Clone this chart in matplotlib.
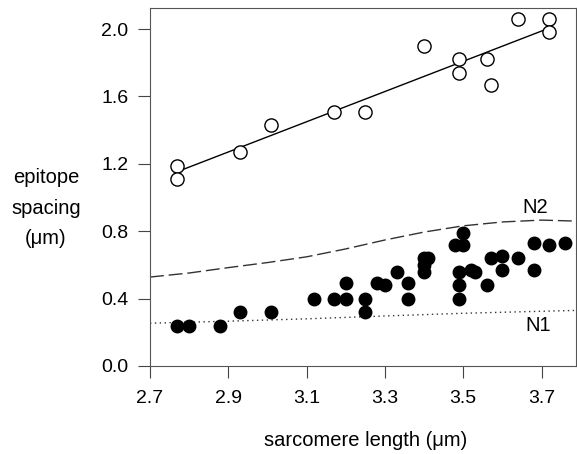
import numpy as np
import matplotlib.pyplot as plt

plt.rcParams['font.family'] = ['Liberation Sans', 'DejaVu Sans']

# open circles (upper series)
open_x = [2.77, 2.77, 2.93, 3.01, 3.17, 3.25, 3.40, 3.49, 3.49, 3.56, 3.57, 3.64, 3.72, 3.72]
open_y = [1.19, 1.11, 1.27, 1.43, 1.51, 1.51, 1.90, 1.82, 1.74, 1.82, 1.67, 2.06, 2.06, 1.98]

# filled circles (lower series)
fill_x = [2.77, 2.80, 2.88, 2.93, 3.01, 3.12, 3.17, 3.20, 3.20, 3.25, 3.25, 3.28,
          3.30, 3.33, 3.36, 3.36, 3.40, 3.41, 3.40, 3.40, 3.48, 3.50, 3.50, 3.49,
          3.49, 3.49, 3.52, 3.53, 3.56, 3.57, 3.60, 3.60, 3.64, 3.68, 3.68, 3.72, 3.76]
fill_y = [0.24, 0.24, 0.24, 0.32, 0.32, 0.40, 0.40, 0.40, 0.49, 0.40, 0.32, 0.49,
          0.48, 0.56, 0.49, 0.40, 0.64, 0.64, 0.60, 0.56, 0.72, 0.72, 0.79, 0.56,
          0.48, 0.40, 0.57, 0.56, 0.48, 0.64, 0.65, 0.57, 0.64, 0.73, 0.57, 0.72, 0.73]

# model curves
n2_x = [2.70, 2.80, 2.90, 3.00, 3.10, 3.20, 3.30, 3.40, 3.50, 3.60, 3.70, 3.79]
n2_y = [0.528, 0.552, 0.584, 0.614, 0.648, 0.695, 0.748, 0.795, 0.832, 0.855, 0.866, 0.860]
n1_x = [2.70, 2.90, 3.10, 3.30, 3.50, 3.70, 3.79]
n1_y = [0.254, 0.266, 0.280, 0.297, 0.313, 0.325, 0.330]

xticks = [2.7, 2.9, 3.1, 3.3, 3.5, 3.7]
yticks = [0.0, 0.4, 0.8, 1.2, 1.6, 2.0]

fig = plt.figure(figsize=(5.77, 4.54), dpi=100)
ax = fig.add_axes([150 / 577, 1 - 366 / 454, 426 / 577, 358 / 454])

# regression line through the open circles
k, b = np.polyfit(open_x, open_y, 1)
lx = np.array([min(open_x), max(open_x)])
ax.plot(lx, k * lx + b, color='black', lw=1.0, zorder=2)

ax.plot(n2_x, n2_y, color='#333333', lw=1.0, dashes=(10, 3.5), zorder=2)
ax.plot(n1_x, n1_y, color='#333333', lw=1.0, dashes=(1, 2.5), zorder=2)

ax.plot(open_x, open_y, 'o', ms=9.5, mfc='white', mec='black', mew=1.0, zorder=3)
ax.plot(fill_x, fill_y, 'o', ms=9.0, mfc='black', mec='black', zorder=3)

ax.text(3.683, 0.94, 'N2', fontsize=14.5, ha='center', va='center')
ax.text(3.691, 0.238, 'N1', fontsize=14.5, ha='center', va='center')

ax.set_xlim(2.7, 3.788)
ax.set_ylim(0.0, 2.125)
ax.set_xticks(xticks)
ax.set_yticks(yticks)
ax.set_xticklabels(['%.1f' % v for v in xticks])
ax.set_yticklabels(['%.1f' % v for v in yticks])
ax.tick_params(direction='out', length=8.5, width=0.8, color='#444444',
               labelsize=14, pad=7)
ax.tick_params(axis='x', pad=9)
for s in ax.spines.values():
    s.set_color('#555555')
    s.set_linewidth(0.8)

fig.text(366 / 577, 1 - 441 / 454, 'sarcomere length (μm)', fontsize=14.5,
         ha='center', va='center')
fig.text(46 / 577, 1 - 208 / 454, 'epitope\nspacing\n(μm)', fontsize=14.5,
         ha='center', va='center', linespacing=1.75)

fig.savefig('out.png', dpi=100)
